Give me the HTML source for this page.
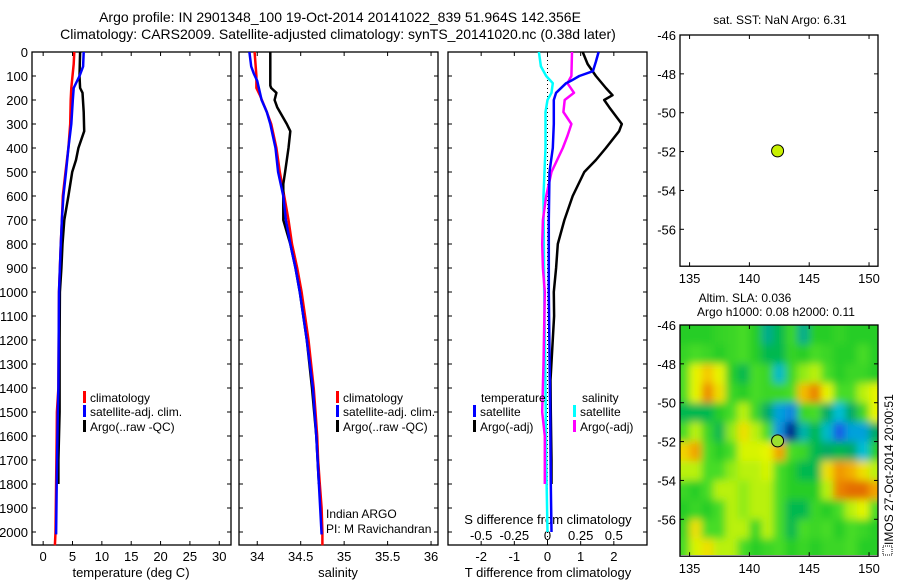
<!DOCTYPE html>
<html><head><meta charset="utf-8"><style>
body{margin:0;background:#fff;}
svg text{font-family:"Liberation Sans",sans-serif;fill:#000;}
</style></head><body>
<svg id="s" width="900" height="580" xmlns="http://www.w3.org/2000/svg">
<defs>
<filter id="blur" x="-10%" y="-10%" width="120%" height="120%"><feGaussianBlur stdDeviation="4"/></filter>
<clipPath id="mapclip"><rect x="680" y="325" width="198" height="230"/></clipPath>
</defs>
<text x="340" y="22" font-size="14" text-anchor="middle">Argo profile: IN 2901348_100 19-Oct-2014 20141022_839 51.964S 142.356E</text>
<text x="338" y="39" font-size="14" text-anchor="middle">Climatology: CARS2009. Satellite-adjusted climatology: synTS_20141020.nc (0.38d later)</text>
</svg>
<script>
// ---- data ----
const tDepth = [0,50,100,150,200,300,400,500,600,700,800,1000,1200,1400,1500,1600,1800,2000,2055];
const tClim  = [5.3,5.2,5.0,4.8,4.7,4.6,4.3,3.8,3.35,3.2,3.0,2.7,2.65,2.6,2.35,2.3,2.2,2.1,2.0];
const tSatDepth = [0,60,100,150,200,300,400,500,600,700,800,1000,1200,1400,1500,1800,2010];
const tSat   = [6.9,6.8,6.2,5.2,5.05,4.8,4.3,3.9,3.45,3.2,3.0,2.7,2.65,2.6,2.5,2.3,2.2];
const argoDepth = [0,100,150,170,250,330,400,450,500,600,700,800,900,1000,1200,1500,1700,1800];
const tArgo  = [6.3,6.2,6.3,6.7,6.9,7.0,6.0,5.6,4.95,4.3,3.6,3.3,3.1,2.85,2.8,2.8,2.6,2.6];
const sDepth = [0,100,150,180,250,300,400,500,600,700,800,900,1000,1200,1400,1500,1600,1700,1800,1900,2000,2055];
const sClim  = [33.97,33.99,33.99,34.03,34.11,34.16,34.22,34.26,34.31,34.36,34.40,34.46,34.51,34.59,34.65,34.67,34.69,34.70,34.72,34.74,34.75,34.75];
const sSatDepth = [0,60,90,120,200,250,300,400,500,600,700,800,900,1000,1200,1400,1600,1800,2010];
const sSat   = [33.91,33.93,33.96,34.0,34.05,34.11,34.15,34.21,34.24,34.30,34.33,34.38,34.44,34.49,34.57,34.64,34.68,34.71,34.74];
const sArgoDepth = [0,140,150,170,200,230,300,330,400,450,500,550,700,800,900,1000,1200,1400,1600,1800];
const sArgo  = [34.15,34.15,34.16,34.22,34.20,34.23,34.34,34.38,34.36,34.34,34.32,34.30,34.30,34.38,34.44,34.49,34.57,34.63,34.68,34.71];
const dTDepth = [0,40,80,100,120,130,170,200,300,400,500,700,1000,1500,1800,2000];
const dTSat  = [1.54,1.46,1.37,0.96,0.71,0.56,0.26,0.19,0.19,0.16,0.06,0.04,0.04,0.08,0.1,0.12];
const dTArgoDepth = [0,50,100,150,180,200,230,300,330,400,450,500,600,700,800,900,1000,1100,1367,1500,1700,1800];
const dTArgo = [1.06,1.21,1.46,1.76,1.96,1.71,1.86,2.24,2.16,1.76,1.46,1.11,0.76,0.51,0.31,0.26,0.19,0.2,0.09,0.1,0.12,0.12];
const dSDepth = [0,60,100,130,170,200,250,400,600,1000,1400,1700,2000];
const dSSat  = [-0.065,-0.05,-0.01,0.04,0.03,0.0,-0.015,-0.015,-0.03,-0.025,-0.015,-0.01,0.0];
const dSArgoDepth = [0,100,130,170,200,250,300,350,400,500,600,700,800,900,1000,1300,1500,1600,1800];
const dSArgo = [0.185,0.18,0.15,0.2,0.13,0.12,0.18,0.15,0.115,0.03,-0.01,-0.035,-0.04,-0.035,-0.02,-0.03,-0.04,-0.02,-0.02];
const depthTicks = [0,100,200,300,400,500,600,700,800,900,1000,1100,1200,1300,1400,1500,1600,1700,1800,1900,2000];
const tempTicks = [0,5,10,15,20,25,30];
const salTicks = [34,34.5,35,35.5,36];
const dTTicks = [-2,-1,0,1,2];
const dSTickLabels = ["-0.5","-0.25","0","0.25","0.5"];
const lonTicks = [135,140,145,150];
const latTicks = [-46,-48,-50,-52,-54,-56];
const argoLon = 142.356, argoLat = -51.964;
const slaLats = [-46.5,-47.5,-48.5,-49.5,-50.5,-51.5,-52.5,-53.5,-54.5,-55.5,-56.5,-57.5];
const slaLons = [134.5,135.5,136.5,137.5,138.5,139.5,140.5,141.5,142.5,143.5,144.5,145.5,146.5,147.5,148.5,149.5,150.5];
const sla = [
[0,0,0,0.2,0.3,0.5,0,-0.8,-0.3,0.3,-0.8,0,0,0.2,0,0,0],
[0.2,0.5,0.3,0,0.3,0.5,0,-0.3,-0.3,0.2,0,0.5,0.3,0,0,0.5,0],
[0.5,1.3,1.7,1.3,0,-0.3,0.5,0.3,-1.2,0.3,0.8,1,0.5,0,0.3,0.3,0],
[0.5,1.3,2.2,1.5,0.3,0,0.5,0.3,0.3,0.5,1.8,2.3,1.3,0.5,0.5,1,1.3],
[-0.3,-0.3,-0.3,0,0.5,1,0.3,-0.5,-1.5,-1.7,0.3,0.5,-0.5,-1.3,-0.5,0.3,1.3],
[0.5,1,0.3,-0.3,0.8,1.5,1,0.5,-1.6,-2.9,-1,-0.3,-1.2,-2,-1.5,-1.5,-0.5],
[1.6,2,0.5,0,0.5,1.2,1.2,1.3,2,0.5,0.3,-0.3,-0.5,-0.3,-0.5,-1.3,0],
[1,1,0.5,0.5,0.8,1,1,1.2,0.5,0,-0.3,-0.3,1.5,2.1,1.9,1.5,1],
[0.3,0,0.5,1,1,0.8,1,1,0.5,0,0,0,1,2.3,2.5,2.5,2],
[0,0.3,0,0.5,1,0.8,1,1,0.5,-0.3,-0.3,0.3,0,0.5,1,1.3,0.5],
[0.3,1.5,0.5,0.5,1,1,0.3,1,0.5,-0.3,0.5,0.3,0.5,0,0.5,0.3,0],
[0.5,1.2,1.5,1,1,0.5,0,0.3,0.5,0,0.3,0,0.3,0.3,0.5,0,0]];

// ---- drawing ----
const NS="http://www.w3.org/2000/svg", svg=document.getElementById('s');
function el(tag,attrs,parent){const e=document.createElementNS(NS,tag);for(const k in attrs)e.setAttribute(k,attrs[k]);(parent||svg).appendChild(e);return e;}
function txt(x,y,s,size,anchor,parent){const t=el('text',{x:x,y:y,'font-size':size,'text-anchor':anchor||'middle'},parent);t.textContent=s;return t;}
const top0=52, bot=545, yD=d=>top0+d*0.24;
const panels=[{x0:32,x1:231,lo:-1.9,hi:32},{x0:239,x1:438,lo:33.79,hi:36.08},{x0:448,x1:647,lo:-3,hi:3}];
panels.forEach(p=>p.f=v=>p.x0+(v-p.lo)/(p.hi-p.lo)*(p.x1-p.x0));
const [P1,P2,P3]=panels;
function line(xs,ds,fx,color,name,w){
  const pts=xs.map((v,i)=>fx(v).toFixed(1)+','+yD(ds[i]).toFixed(1)).join(' ');
  const pl=el('polyline',{points:pts,fill:'none',stroke:color,'stroke-width':w||2.5,'stroke-linejoin':'round'});
  
  
}
function frame(p,name){
  const r=el('rect',{x:p.x0,y:top0,width:p.x1-p.x0,height:bot-top0,fill:'none',stroke:'#000','stroke-width':1.3});
  
  
  depthTicks.forEach(d=>{const y=yD(d);el('line',{x1:p.x0,x2:p.x0+4,y1:y,y2:y,stroke:'#000'});el('line',{x1:p.x1,x2:p.x1-4,y1:y,y2:y,stroke:'#000'});});
}
depthTicks.forEach(d=>{const t=txt(28,yD(d)+5,String(d),13,'end');});
frame(P1,'temperature-panel');frame(P2,'salinity-panel');frame(P3,'difference-panel');
tempTicks.forEach(v=>{const x=P1.f(v);el('line',{x1:x,x2:x,y1:bot,y2:bot-4,stroke:'#000'});el('line',{x1:x,x2:x,y1:top0,y2:top0+4,stroke:'#000'});const t=txt(x,561,String(v),13);});
salTicks.forEach(v=>{const x=P2.f(v);el('line',{x1:x,x2:x,y1:bot,y2:bot-4,stroke:'#000'});el('line',{x1:x,x2:x,y1:top0,y2:top0+4,stroke:'#000'});const t=txt(x,561,String(v),13);});
dTTicks.forEach((v,i)=>{const x=P3.f(v);el('line',{x1:x,x2:x,y1:bot,y2:bot-4,stroke:'#000'});el('line',{x1:x,x2:x,y1:top0,y2:top0+4,stroke:'#000'});const t=txt(x,561,String(v),13);
  const s=txt(x,540,dSTickLabels[i],13);});
let t;
t=txt(131,577,'temperature (deg C)',13);
t=txt(338,577,'salinity',13);
t=txt(548,577,'T difference from climatology',13);
t=txt(548,524,'S difference from climatology',13);
el('line',{x1:P3.f(0),x2:P3.f(0),y1:top0,y2:bot,stroke:'#000','stroke-dasharray':'1,3'});
line(tClim,tDepth,P1.f,'#f00','temp-climatology-line');
line(tArgo,argoDepth,P1.f,'#000','temp-argo-line');
line(tSat,tSatDepth,P1.f,'#00f','temp-satellite-line');
line(sClim,sDepth,P2.f,'#f00','sal-climatology-line');
line(sArgo,sArgoDepth,P2.f,'#000','sal-argo-line');
line(sSat,sSatDepth,P2.f,'#00f','sal-satellite-line');
const fS=v=>P3.f(v*4);
line(dSSat,dSDepth,fS,'#0ff','sdiff-satellite-line');
line(dSArgo,dSArgoDepth,fS,'#f0f','sdiff-argo-line');
line(dTArgo,dTArgoDepth,P3.f,'#000','tdiff-argo-line');
line(dTSat,dTDepth,P3.f,'#00f','tdiff-satellite-line');
function leg(x,y,color,label,name){el('rect',{x:x,y:y-11,width:3,height:12,fill:color});const tt=txt(x+7,y,label,12,'start');}
[[P1,83],[P2,336]].forEach(([p,x],k)=>{
  leg(x,402,'#f00','climatology','legend-climatology');
  leg(x,416,'#00f','satellite-adj. clim.','legend-satellite-adj');
  leg(x,431,'#000','Argo(..raw -QC)','legend-argo');
});
t=txt(481,402,'temperature',12,'start');
t=txt(582,402,'salinity',12,'start');
leg(473,416,'#00f','satellite','legend-t-satellite');
leg(473,431,'#000','Argo(-adj)','legend-t-argo');
leg(573,416,'#0ff','satellite','legend-s-satellite');
leg(573,431,'#f0f','Argo(-adj)','legend-s-argo');
t=txt(326,518,'Indian ARGO',12,'start');
t=txt(326,533,'PI: M Ravichandran',12,'start');

const mx0=680,mx1=878,lonLo=134.2,lonHi=150.75,latLo=-57.9;
const fLon=v=>mx0+(v-lonLo)/(lonHi-lonLo)*(mx1-mx0);
function mapAxes(y0,name){
  const y1=y0+(-46-latLo)*19.43;
  const fLat=v=>y0+(-46-v)*19.43;
  return {y0,y1,fLat,draw(){
    const r=el('rect',{x:mx0,y:y0,width:mx1-mx0,height:y1-y0,fill:'none',stroke:'#000','stroke-width':1.3});
    
    
    lonTicks.forEach(v=>{const x=fLon(v);el('line',{x1:x,x2:x,y1:y0,y2:y0+4,stroke:'#000'});el('line',{x1:x,x2:x,y1:y1,y2:y1-4,stroke:'#000'});const tt=txt(x,y1+17,String(v),13);});
    latTicks.forEach(v=>{const y=fLat(v);el('line',{x1:mx0,x2:mx0+4,y1:y,y2:y,stroke:'#000'});el('line',{x1:mx1,x2:mx1-4,y1:y,y2:y,stroke:'#000'});const tt=txt(mx0-4,y+5,String(v),13,'end');});
  }};
}
const m1=mapAxes(35,'sst-map-frame');
m1.draw();
let c=el('circle',{cx:fLon(argoLon),cy:m1.fLat(argoLat),r:6,fill:'#c8f000',stroke:'#000','stroke-width':1});


t=txt(780,24,'sat. SST: NaN Argo: 6.31',12);

const m2=mapAxes(325,'sla-map-frame');
const stops=[[-3,[0,20,130]],[-2,[20,90,230]],[-1.3,[0,190,215]],[-0.6,[0,165,110]],[-0.2,[0,190,70]],[0,[40,205,40]],[0.5,[70,220,40]],[0.9,[170,240,20]],[1.3,[230,245,0]],[1.7,[245,200,0]],[2.1,[240,150,0]],[2.6,[225,100,0]]];
function cmap(v){if(v<=stops[0][0])return stops[0][1];for(let i=1;i<stops.length;i++){if(v<=stops[i][0]){const a=stops[i-1],b=stops[i],f=(v-a[0])/(b[0]-a[0]);return a[1].map((c,k)=>Math.round(c+(b[1][k]-c)*f));}}return stops[stops.length-1][1];}
const outer=el('g',{'clip-path':'url(#mapclip)'});


const inner=el('g',{filter:'url(#blur)'},outer);
el('rect',{x:mx0-30,y:m2.y0-30,width:260,height:300,fill:'rgb(40,205,40)'},inner);
const cw=Math.abs(fLon(1)-fLon(0)), ch=19.43;
slaLats.forEach((la,i)=>slaLons.forEach((lo,j)=>{
  const col=cmap(sla[i][j]);
  let top=m2.fLat(la)-ch/2, h=ch;
  if(i===0){top-=12;h+=12;} if(i===slaLats.length-1){h+=12;}
  let left=fLon(lo)-cw/2, w=cw;
  if(j===0){left-=12;w+=12;} if(j===slaLons.length-1){w+=12;}
  const r=el('rect',{x:left.toFixed(1),y:top.toFixed(1),width:(w+0.5).toFixed(1),height:(h+0.5).toFixed(1),fill:'rgb('+col.join(',')+')'},inner);
  
  
}));
m2.draw();
c=el('circle',{cx:fLon(argoLon),cy:m2.fLat(argoLat),r:6,fill:'#9ae030',stroke:'#000','stroke-width':1});


t=txt(745,302,'Altim. SLA: 0.036',12);
t=txt(776,316,'Argo h1000: 0.08 h2000: 0.11',12);
t=txt(0,0,'IMOS 27-Oct-2014 20:00:51',12,'start');
t.setAttribute('transform','translate(893,545) rotate(-90)');


el('rect',{x:883,y:546,width:9,height:9,fill:'none',stroke:'#000','stroke-dasharray':'1,1'});
</script>
</body></html>
